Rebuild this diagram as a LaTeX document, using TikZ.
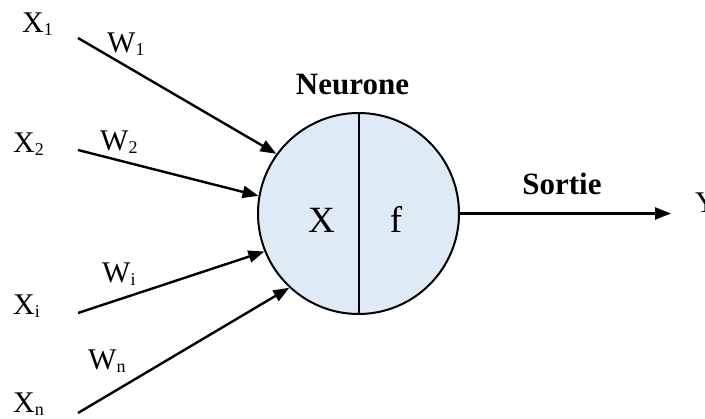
\documentclass[tikz,border=0pt]{standalone}
\usepackage{fontspec}
\setmainfont{Liberation Serif}
\usetikzlibrary{arrows.meta}
\definecolor{neurfill}{HTML}{DEEAF6}
\newcommand\sbx[1]{\raisebox{-3pt}{\fontsize{18}{18}\selectfont #1}}
\begin{document}
\begin{tikzpicture}[x=1pt,y=-1pt,
  lbl/.style={inner sep=0pt,anchor=base west,font=\fontsize{30}{30}\selectfont},
  bold lbl/.style={inner sep=0pt,anchor=base,font=\fontsize{31}{31}\selectfont\bfseries},
  big lbl/.style={inner sep=0pt,anchor=base,font=\fontsize{37}{37}\selectfont},
  conn/.style={line width=2.4pt,-{Triangle[length=16pt,width=12pt]}},
  neur/.style={circle,draw,line width=2pt,fill=neurfill,minimum size=201pt,inner sep=0pt}]
\useasboundingbox (0,0) rectangle (705,419);
\node[neur] (n) at (358.5,213.5) {};
\draw[line width=2pt] (n.north) -- (n.south);
\node[big lbl] (lx) at (321.5,233) {X};
\node[big lbl] (lf) at (396,233) {f};
\node[bold lbl] (neurone) at (352.5,95) {Neurone};
\node[bold lbl] (sortie) at (562,195) {Sortie};
% inputs
\node[lbl] (x1) at (22,33) {X\sbx{1}};
\node[lbl] (x2) at (13,153) {X\sbx{2}};
\node[lbl] (xi) at (13,315) {X\sbx{i}};
\node[lbl] (xn) at (13,413) {X\sbx{n}};
\node[lbl] (w1) at (107,53) {W\sbx{1}};
\node[lbl] (w2) at (100,151) {W\sbx{2}};
\node[lbl] (wi) at (102,283) {W\sbx{i}};
\node[lbl] (wn) at (88,370) {W\sbx{n}};
\node[lbl] (y) at (695,213) {Y};
\coordinate (s1) at (78,38);
\coordinate (s2) at (78,150);
\coordinate (si) at (78,313);
\coordinate (sn) at (78,413);
\coordinate (out) at (671,213.5);
\draw[conn] (s1) -- (n.144.5);
\draw[conn] (s2) -- (n.170.7);
\draw[conn] (si) -- (n.202.9);
\draw[conn] (sn) -- (n.227);
\draw[conn] (n.east) -- (out);
\end{tikzpicture}
\end{document}
